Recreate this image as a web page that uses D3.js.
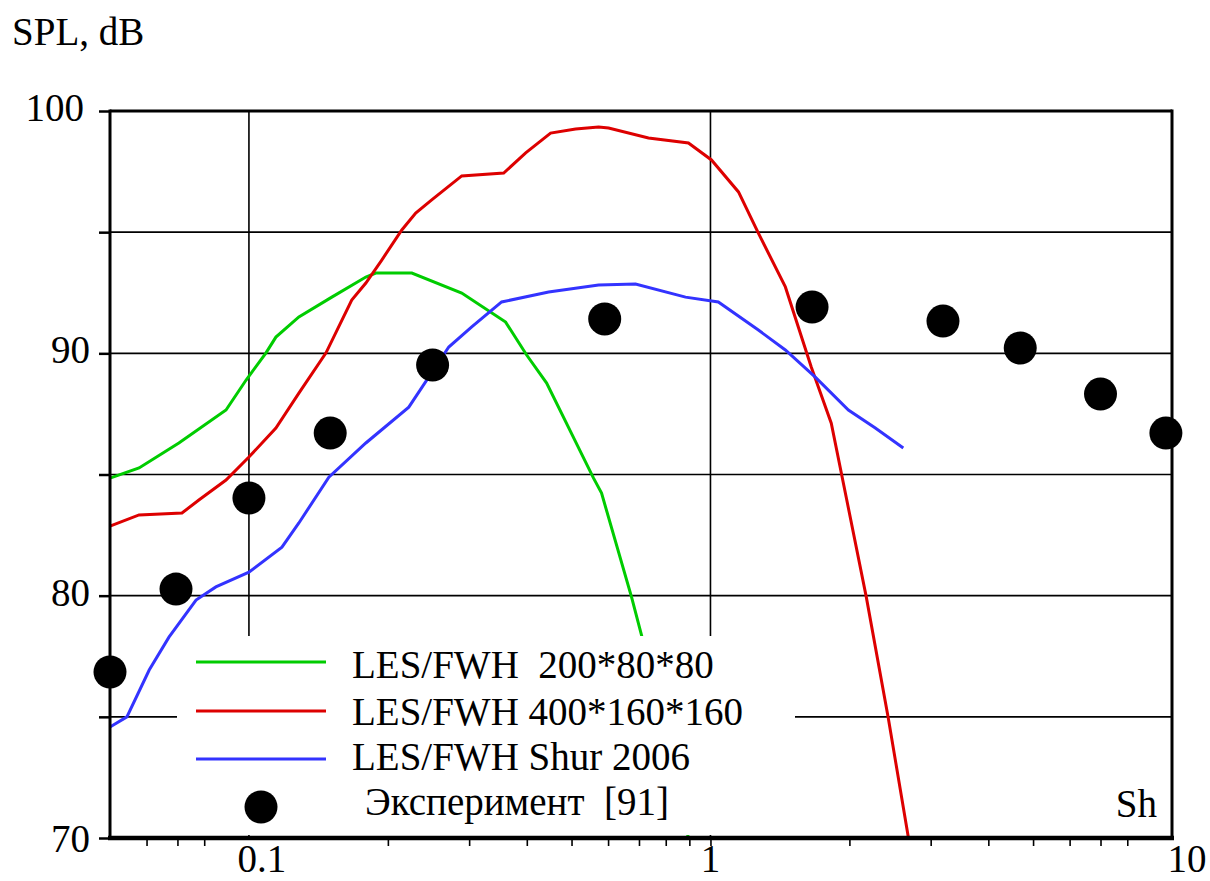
<!DOCTYPE html>
<html>
<head>
<meta charset="utf-8">
<script src="https://cdn.jsdelivr.net/npm/d3@7"></script>
<style>
  html, body { margin: 0; padding: 0; background: #fff; }
</style>
</head>
<body>
<div id="chart"></div>
<script>
// data
const greenSh  = [0.05, 0.0578, 0.0705, 0.0892, 0.0986, 0.1088, 0.1144, 0.1283, 0.1512, 0.1792, 0.1883, 0.2254, 0.2891, 0.3599, 0.3997, 0.4416, 0.558, 0.5808, 0.6746, 0.7089, 0.896];
const greenSpl = [84.85, 85.27, 86.30, 87.66, 88.90, 90.01, 90.67, 91.50, 92.32, 93.15, 93.31, 93.31, 92.49, 91.29, 89.93, 88.77, 84.85, 84.23, 79.94, 78.37, 70.0];

const redSh  = [0.05, 0.0578, 0.0716, 0.0779, 0.0892, 0.1, 0.1144, 0.1283, 0.1468, 0.167, 0.1792, 0.194, 0.2144, 0.2298, 0.2489, 0.2891, 0.3565, 0.3978, 0.4504, 0.5102, 0.5723, 0.6015, 0.734, 0.896, 1.005, 1.15, 1.27, 1.453, 1.654, 1.827, 1.97, 2.176, 2.428, 2.683];
const redSpl = [82.87, 83.33, 83.41, 83.95, 84.77, 85.72, 86.92, 88.36, 90.01, 92.20, 92.90, 93.85, 95.09, 95.79, 96.33, 97.32, 97.44, 98.27, 99.09, 99.26, 99.34, 99.30, 98.89, 98.68, 97.98, 96.66, 94.96, 92.74, 89.43, 87.12, 84.03, 79.94, 74.95, 70.04];

const blueSh  = [0.05, 0.0544, 0.0608, 0.0671, 0.0768, 0.0848, 0.1, 0.1179, 0.1283, 0.149, 0.1792, 0.222, 0.271, 0.3039, 0.3528, 0.446, 0.5723, 0.688, 0.883, 1.04, 1.27, 1.453, 1.687, 1.99, 2.276, 2.617];
const blueSpl = [74.58, 75.0, 76.93, 78.29, 79.82, 80.36, 80.97, 82.0, 83.0, 84.89, 86.30, 87.78, 90.26, 91.09, 92.12, 92.53, 92.82, 92.86, 92.32, 92.12, 90.96, 90.14, 89.02, 87.66, 86.92, 86.09];

const expSh  = [0.05, 0.0695, 0.1, 0.15, 0.25, 0.59, 1.66, 3.19, 4.69, 7.0, 9.7];
const expSpl = [76.85, 80.27, 84.03, 86.71, 89.52, 91.42, 91.91, 91.33, 90.22, 88.32, 86.71];

const gridY = [75, 80, 85, 90, 95];
const gridX = [0.1, 1];
const yTicks = [70, 75, 80, 85, 90, 95, 100];
const yLabels = [70, 80, 90, 100];
const xMinor = [0.06, 0.07, 0.08, 0.2, 0.3, 0.4, 0.5, 0.6, 0.7, 0.8, 0.9, 1, 2, 3, 4, 5, 6, 7, 8];
const xLabels = ["0.1", "1", "10"];
const xLabelAt = [0.1, 1, 10];

const legendNames = ["LES/FWH  200*80*80", "LES/FWH 400*160*160", "LES/FWH Shur 2006"];
const legendColors = ["#00cc00", "#dd0000", "#3333ff"];
const expName = "Эксперимент  [91]";

const width = 1210, height = 881;
const pLeft = 110, pRight = 1172, pTop = 111, pBottom = 838;
const serif = "'Liberation Serif', 'DejaVu Serif', 'Times New Roman', serif";
const fs = 39;

const svg = d3.select("#chart").append("svg")
  .attr("width", width)
  .attr("height", height)
  .style("font-family", serif);

const x = d3.scaleLog().domain([0.05, 10]).range([pLeft, pRight]);
const y = d3.scaleLinear().domain([70, 100]).range([pBottom, pTop]);

const zip = (a, b) => a.map((v, i) => [v, b[i]]);
const line = d3.line().x(d => x(d[0])).y(d => y(d[1]));

// grid
svg.append("g").selectAll("line").data(gridY).join("line")
  .attr("x1", pLeft).attr("x2", pRight)
  .attr("y1", d => y(d)).attr("y2", d => y(d))
  .attr("stroke", "#000").attr("stroke-width", 1.6);

svg.append("g").selectAll("line").data(gridX).join("line")
  .attr("x1", d => x(d)).attr("x2", d => x(d))
  .attr("y1", pTop).attr("y2", pBottom)
  .attr("stroke", "#000").attr("stroke-width", 1.6);

// curves
const curves = [zip(greenSh, greenSpl), zip(redSh, redSpl), zip(blueSh, blueSpl)];
svg.append("g").selectAll("path").data(curves).join("path")
  .attr("d", line)
  .attr("fill", "none")
  .attr("stroke", (d, i) => legendColors[i])
  .attr("stroke-width", 3);

// legend background hides part of the grid
svg.append("rect")
  .attr("x", 177).attr("y", 636)
  .attr("width", 618).attr("height", 199)
  .attr("fill", "#fff");

// experiment points
svg.append("g").selectAll("circle").data(zip(expSh, expSpl)).join("circle")
  .attr("cx", d => x(d[0]))
  .attr("cy", d => y(d[1]))
  .attr("r", 16.5)
  .attr("fill", "#000");

// axes
const xAxis = svg.append("g")
  .attr("transform", `translate(0,${pBottom})`)
  .call(d3.axisBottom(x).tickValues(xMinor).tickSize(8).tickFormat(""));
xAxis.select(".domain").remove();
xAxis.selectAll("line").attr("stroke", "#000").attr("stroke-width", 1.6);

const yAxis = svg.append("g")
  .attr("transform", `translate(${pLeft},0)`)
  .call(d3.axisLeft(y).tickValues(yTicks).tickSize(11).tickFormat(""));
yAxis.select(".domain").remove();
yAxis.selectAll("line").attr("stroke", "#000").attr("stroke-width", 2.5);

// frame
svg.append("line").attr("x1", pLeft).attr("x2", pRight).attr("y1", pTop).attr("y2", pTop)
  .attr("stroke", "#000").attr("stroke-width", 3);
svg.append("line").attr("x1", pLeft).attr("x2", pLeft).attr("y1", pTop - 1.5).attr("y2", pBottom + 2)
  .attr("stroke", "#000").attr("stroke-width", 3);
svg.append("line").attr("x1", pRight).attr("x2", pRight).attr("y1", pTop - 1.5).attr("y2", pBottom + 2)
  .attr("stroke", "#000").attr("stroke-width", 3);
svg.append("line").attr("x1", pLeft - 2).attr("x2", pRight + 2).attr("y1", pBottom).attr("y2", pBottom)
  .attr("stroke", "#000").attr("stroke-width", 4.5);

const txt = sel => sel.style("font-family", serif).attr("font-size", fs).attr("fill", "#000");

// tick labels
svg.append("g").selectAll("text").data(yLabels).join("text")
  .call(txt)
  .attr("x", d => d === 100 ? 84 : 90)
  .attr("y", d => y(d) + (d === 70 ? 14 : 10))
  .attr("text-anchor", "end")
  .text(d => d);

svg.append("g").selectAll("text").data(xLabels).join("text")
  .call(txt)
  .attr("x", (d, i) => x(xLabelAt[i]) + [13, 0, 15][i])
  .attr("y", 872)
  .attr("text-anchor", "middle")
  .text(d => d);

svg.append("text").call(txt).attr("x", 12).attr("y", 45).text("SPL, dB");
svg.append("text").call(txt).attr("x", 1157).attr("y", 817).attr("text-anchor", "end").text("Sh");

// legend
const leg = svg.append("g");
const lineY = [662, 711, 759];
const textY = [678, 725, 770];
leg.selectAll("line").data(legendNames).join("line")
  .attr("x1", 196).attr("x2", 326)
  .attr("y1", (d, i) => lineY[i]).attr("y2", (d, i) => lineY[i])
  .attr("stroke", (d, i) => legendColors[i])
  .attr("stroke-width", 3);
leg.selectAll("text").data(legendNames).join("text")
  .call(txt)
  .attr("x", 352)
  .attr("y", (d, i) => textY[i])
  .style("white-space", "pre")
  .text(d => d);
leg.append("circle").attr("cx", 261).attr("cy", 807).attr("r", 16.5).attr("fill", "#000");
leg.append("text").call(txt).attr("x", 365).attr("y", 815)
  .style("white-space", "pre").text(expName);
</script>
</body>
</html>
